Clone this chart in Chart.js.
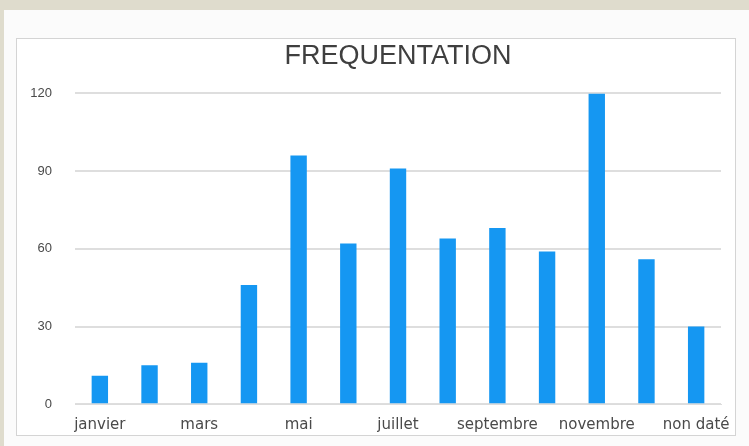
<!DOCTYPE html>
<html>
<head>
<meta charset="utf-8">
<script src="https://cdn.jsdelivr.net/npm/chart.js@4/dist/chart.umd.min.js"></script>
<style>
  html, body { margin: 0; padding: 0; }
  body { width: 749px; height: 446px; background: #dfdccd; position: relative; overflow: hidden; }
  #panel { position: absolute; left: 4px; top: 10px; right: 0; bottom: 0; background: #fbfbfb; }
  #box { position: absolute; left: 16px; top: 38px; width: 718px; height: 396px; border: 1px solid #d4d4d4; background: #fff; }
  canvas { display: block; }
</style>
</head>
<body>
<div id="panel"></div>
<div id="box"><canvas id="chart" width="718" height="396"></canvas></div>
<script>
const months = ['janvier', 'février', 'mars', 'avril', 'mai', 'juin', 'juillet', 'août',
  'septembre', 'octobre', 'novembre', 'décembre', 'non daté']
const visits = [11, 15, 16, 46, 96, 62, 91, 64, 68, 59, 120, 56, 30]
const yTicks = [0, 30, 60, 90, 120]

const font = "'Liberation Sans', Arial, sans-serif"
const wideFont = "'DejaVu Sans', Verdana, sans-serif"

new Chart(document.getElementById('chart'), {
  type: 'bar',
  data: {
    labels: months,
    datasets: [{
      data: visits,
      backgroundColor: '#1597f2',
      barPercentage: 0.33,
      categoryPercentage: 1
    }]
  },
  options: {
    responsive: false,
    animation: false,
    layout: { padding: { left: 0, right: 14, top: 0, bottom: 0 } },
    plugins: {
      legend: { display: false },
      tooltip: { enabled: false },
      title: {
        display: true,
        fullSize: false,
        text: 'FREQUENTATION',
        color: '#3f3f3f',
        font: { family: font, size: 27, weight: 'normal' },
        padding: { top: 1, bottom: 21 }
      }
    },
    scales: {
      x: {
        grid: { display: false },
        border: { display: true, color: '#dcdcdc' },
        ticks: {
          autoSkip: false,
          maxRotation: 0,
          color: '#4a4a4a',
          font: { family: wideFont, size: 15 },
          padding: 4,
          callback: (v, i) => (i % 2 === 0 ? months[i] : '')
        },
        afterFit: s => { s.height = 28 }
      },
      y: {
        min: 0,
        max: 120,
        afterBuildTicks: s => { s.ticks = yTicks.map(v => ({ value: v })) },
        grid: { color: '#dedede', lineWidth: 2, tickLength: 0, drawTicks: false },
        border: { display: false },
        ticks: {
          color: '#4a4a4a',
          font: { family: font, size: 13 },
          padding: 23
        },
        afterFit: s => { s.width = 58 }
      }
    }
  }
})
</script>
</body>
</html>
